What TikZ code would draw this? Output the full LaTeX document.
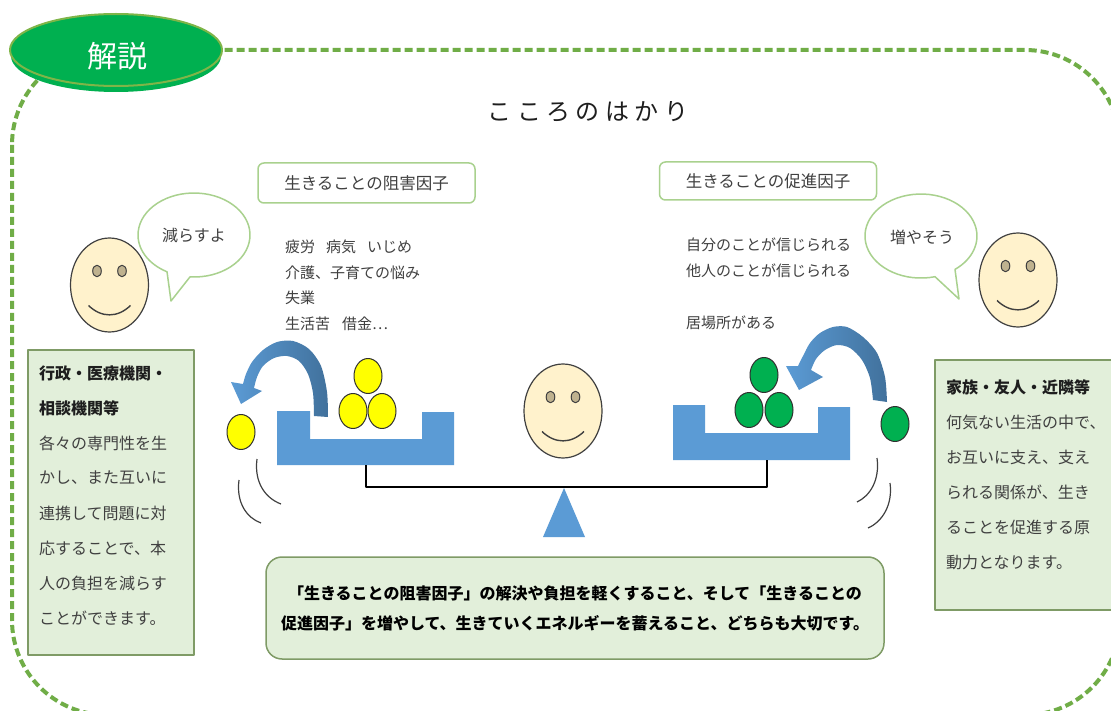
\documentclass[tikz,border=0pt]{standalone}
\usepackage{fontspec}
\setmainfont{Noto Sans CJK JP}
\usetikzlibrary{shapes.geometric}

\definecolor{frameGreen}{HTML}{70AD47}
\definecolor{badgeGreen}{HTML}{00B050}
\definecolor{badgeRim}{HTML}{7FB548}
\definecolor{labelRim}{HTML}{A9D18E}
\definecolor{boxFill}{HTML}{E2EFDA}
\definecolor{boxRim}{HTML}{7F9B66}
\definecolor{trayBlue}{HTML}{5B9BD5}
\definecolor{arrowDark}{HTML}{41719C}
\definecolor{faceFill}{HTML}{FFF2CC}
\definecolor{faceLine}{HTML}{404040}
\definecolor{eyeFill}{HTML}{BFB28F}
\definecolor{coinYellow}{HTML}{FFFF00}
\definecolor{coinGreen}{HTML}{00B050}
\definecolor{coinLine}{HTML}{303030}
\definecolor{inkGray}{HTML}{404040}
\definecolor{inkDark}{HTML}{1E1E1E}

\newcommand\fsz[1]{\fontsize{#1}{#1}\selectfont}

\tikzset{
  frameline/.style={draw=frameGreen, line width=4pt, dash pattern=on 8pt off 4pt},
  labelbox/.style={draw=labelRim, line width=1.5pt, rounded corners=6pt, fill=white,
    text=inkGray, font=\fsz{16.5}, inner sep=0pt},
  listtext/.style={anchor=west, text=inkGray, font=\fsz{15}, inner sep=0pt},
  boxtext/.style={anchor=west, text=inkGray, font=\fsz{16}, inner sep=0pt},
  boxhead/.style={anchor=west, text=inkDark, font=\bfseries\fsz{16}, inner sep=0pt},
  infobox/.style={draw=boxRim, line width=1.8pt, fill=boxFill, inner sep=0pt, anchor=north west},
  sumbox/.style={draw=boxRim, line width=1.5pt, fill=boxFill, rounded corners=16pt,
    inner sep=0pt, align=center, text=black, font=\bfseries\fontsize{16}{30}\selectfont},
  bubble/.style={draw=labelRim, line width=1.5pt, fill=white},
  bubbletext/.style={text=inkGray, font=\fsz{16}, inner sep=0pt},
  coin/.style={ellipse, draw=coinLine, line width=1pt, minimum width=28pt,
    minimum height=35pt, inner sep=0pt},
  tray/.style={fill=trayBlue},
  swoosh/.style={draw=inkGray, line width=1.2pt},
  beam/.style={draw=black, line width=1.2pt},
  smiley/.pic={
    \draw[fill=faceFill, draw=faceLine, line width=1.2pt] (0,0) ellipse [x radius=39, y radius=47];
    \draw[fill=eyeFill, draw=faceLine, line width=1pt]
      (-12.5,-14) ellipse [x radius=4.3, y radius=5.8]
      (12.5,-14) ellipse [x radius=4.3, y radius=5.8];
    \draw[faceLine, line width=1.4pt] (-21,20.5) .. controls (-8,33) and (8,33) .. (21,20.5);
  }
}

\begin{document}
\begin{tikzpicture}[x=1pt, y=-1pt, line join=round]
\useasboundingbox (0,0) rectangle (1111,711);
\fill[white] (0,0) rectangle (1111,711);

% dotted outer frame
\draw[frameline, rounded corners=95pt] (12,50) rectangle (1120,715);

% heading badge
\fill[badgeGreen] (116,56) ellipse [x radius=105, y radius=36];
\draw[fill=badgeGreen, draw=badgeRim, line width=2pt] (116,50) ellipse [x radius=106, y radius=36];
\node[text=white, font=\fsz{30}, inner sep=0pt] (badge) at (117,56) {解説};

% title
\node[text=inkDark, font=\fsz{24}, inner sep=0pt] (title) at (588,112)
  {こ\hspace{5.5pt}こ\hspace{5.5pt}ろ\hspace{5.5pt}の\hspace{5.5pt}は\hspace{5.5pt}か\hspace{5.5pt}り};

% factor labels
\node[labelbox, minimum width=217pt, minimum height=40pt] (hinder) at (366.5,183) {生きることの阻害因子};
\node[labelbox, minimum width=217pt, minimum height=38pt] (promote) at (768,181) {生きることの促進因子};

% factor lists
\node[listtext] (h1) at (285,247) {疲労\hspace{11pt}病気\hspace{11pt}いじめ};
\node[listtext] (h2) at (285,273) {介護、子育ての悩み};
\node[listtext] (h3) at (285,298) {失業};
\node[listtext] (h4) at (285,324) {生活苦\hspace{12pt}借金…};
\node[listtext] (p1) at (686,245) {自分のことが信じられる};
\node[listtext] (p2) at (686,271) {他人のことが信じられる};
\node[listtext] (p3) at (686,323) {居場所がある};

% faces
\pic (faceL) at (109.5,285) {smiley};
\pic (faceR) at (1018,280) {smiley};
\pic (faceC) at (563,411) {smiley};

% speech bubbles
\draw[bubble] (190,276.9) arc [start angle=94.1, end angle=-241.2, x radius=56, y radius=42]
  -- (171,301) -- cycle;
\node[bubbletext] (sayL) at (194,235) {減らすよ};
\draw[bubble] (935,276.7) arc [start angle=75.5, end angle=412.6, x radius=56, y radius=42]
  -- (959,299) -- cycle;
\node[bubbletext] (sayR) at (922,237) {増やそう};

% side boxes
\node[infobox, minimum width=166pt, minimum height=305pt] (orgbox) at (27,349) {};
\node[boxhead] (org1) at (39,373) {行政・医療機関・};
\node[boxhead] (org2) at (39,408) {相談機関等};
\foreach \t [count=\i] in {各々の専門性を生, かし、また互いに, 連携して問題に対,
    応することで、本, 人の負担を減らす, ことができます。}
  \node[boxtext] (orgl\i) at (39,408+35*\i) {\t};

\node[infobox, minimum width=180pt, minimum height=250pt] (famebox) at (934,359) {};
\node[boxhead] (fam1) at (946,387) {家族・友人・近隣等};
\foreach \t [count=\i] in {何気ない生活の中で、, お互いに支え、支え, られる関係が、生き,
    ることを促進する原, 動力となります。}
  \node[boxtext] (faml\i) at (946,387+35*\i) {\t};

% balance trays
\fill[tray] (277,411) -- (310,411) -- (310,439) -- (422,439) -- (422,412) -- (454,412)
  -- (454,465) -- (277,465) -- cycle;
\fill[tray] (673,405) -- (705,405) -- (705,433) -- (818,433) -- (818,407) -- (850,407)
  -- (850,460) -- (673,460) -- cycle;
\coordinate (trayLbot) at (366,465);
\coordinate (trayRbot) at (767,460);
\draw[beam] (trayLbot) -- ++(0,22) -| (trayRbot);
\fill[trayBlue] (564,488) -- (585,537) -- (543,537) -- cycle;

% coins
\node[coin, fill=coinYellow] (y1) at (368,376) {};
\node[coin, fill=coinYellow] (y2) at (353,411) {};
\node[coin, fill=coinYellow] (y3) at (382,411) {};
\node[coin, fill=coinYellow] (y4) at (241,432) {};
\node[coin, fill=coinGreen] (g1) at (764,375) {};
\node[coin, fill=coinGreen] (g2) at (749,410) {};
\node[coin, fill=coinGreen] (g3) at (779,410) {};
\node[coin, fill=coinGreen] (g4) at (895,424) {};

% curved arrows
\shade[left color=trayBlue, right color=arrowDark]
  plot[smooth] coordinates {(328,417) (327,392) (321,366) (309,349) (293,341) (277,342)
    (263,350) (252,362) (246,374) (243,384)}
  -- (231,382) -- (241,404) -- (262,391)
  -- plot[smooth] coordinates {(254,388) (257,377) (263,366) (274,358) (287,356) (299,361)
    (308,374) (313,393) (314,416)}
  -- cycle;
\shade[left color=trayBlue, right color=arrowDark]
  plot[smooth] coordinates {(887,402) (885,377) (877,353) (863,337) (847,327) (833,327)
    (820,333) (810,343) (803,356) (798,366)}
  -- (786,366) -- (799,390) -- (823,377)
  -- plot[smooth] coordinates {(811,370) (816,359) (825,350) (837,345) (850,348) (862,360)
    (870,378) (873,400)}
  -- cycle;

% motion marks
\draw[swoosh] (257,459) .. controls (254,482) and (265,498) .. (281,504);
\draw[swoosh] (239,480) .. controls (236,503) and (247,518) .. (261,523);
\draw[swoosh] (877,458) .. controls (880,480) and (870,496) .. (857,502);
\draw[swoosh] (890,483) .. controls (893,505) and (882,522) .. (868,528);

% summary
\node[sumbox, minimum width=618pt, minimum height=102pt] (summary) at (575,608)
  {「生きることの阻害因子」の解決や負担を軽くすること、そして「生きることの\\
   促進因子」を増やして、生きていくエネルギーを蓄えること、どちらも大切です。};
\end{tikzpicture}
\end{document}
